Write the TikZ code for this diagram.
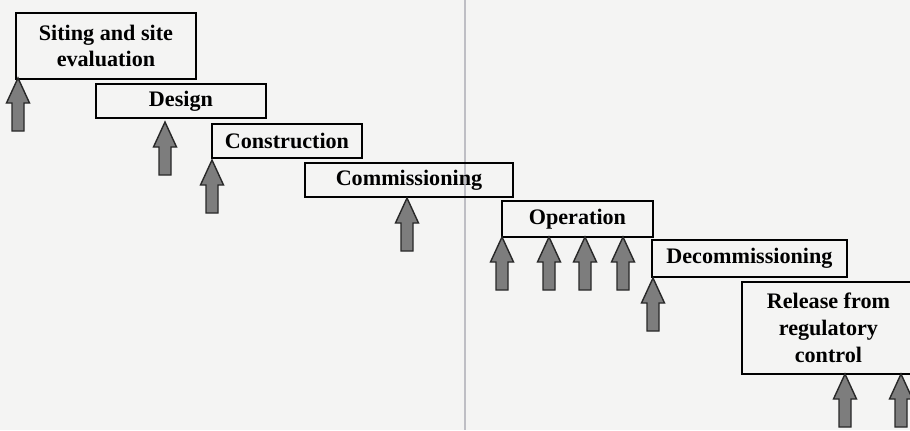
\documentclass[tikz,border=0pt]{standalone}
\usepackage{fontspec}
\setmainfont{Liberation Serif}
\usetikzlibrary{positioning}
\definecolor{scanBg}{RGB}{244,244,243}
\definecolor{foldLine}{RGB}{190,190,196}
\definecolor{arrowFill}{RGB}{125,125,125}
\definecolor{arrowEdge}{RGB}{40,40,40}

\begin{document}
\begin{tikzpicture}[
  x=0.02cm, y=-0.02cm,
  stage/.style={draw=black, line width=1.1pt, anchor=north west, align=center, inner sep=0pt,
    font=\fontsize{12.6}{15.2}\selectfont\bfseries},
  riser/.pic={\draw[fill=arrowFill, draw=arrowEdge, line width=0.8pt, line join=miter]
    (0,0) -- (11.5,25) -- (6,25) -- (6,53) -- (-6,53) -- (-6,25) -- (-11.5,25) -- cycle;}
]

\fill[scanBg] (0,0) rectangle (910,430);
\useasboundingbox (0,0) rectangle (910,430);
\clip (0,0) rectangle (910,430);

\draw[foldLine, line width=0.6pt] (465,0) -- (465,430);

\node[stage, minimum width=3.6cm, minimum height=1.32cm] (siting) at (15,12) {Siting and site\\evaluation};
\node[stage, minimum width=3.4cm, minimum height=0.68cm] (design) at (95,83) {Design};
\node[stage, minimum width=3.0cm, minimum height=0.68cm] (construct) at (211,123) {Construction};
\node[stage, minimum width=4.16cm, minimum height=0.68cm] (commission) at (304,162) {Commissioning};
\node[stage, minimum width=3.02cm, minimum height=0.72cm] (operate) at (501,200) {Operation};
\node[stage, minimum width=3.9cm, minimum height=0.74cm] (decommission) at (651,239) {Decommissioning};
\node[stage, minimum width=3.46cm, minimum height=1.84cm] (release) at (741,281) {Release from\\regulatory\\control};

\pic at (18,78) {riser};
\pic at (165,122) {riser};
\pic at (212,160) {riser};
\pic at (407,198) {riser};
\foreach \x in {502,549,585,623}
  \pic at (\x,237) {riser};
\pic at (653,278) {riser};
\pic at (845,374) {riser};
\pic at (901,374) {riser};
\end{tikzpicture}
\end{document}
